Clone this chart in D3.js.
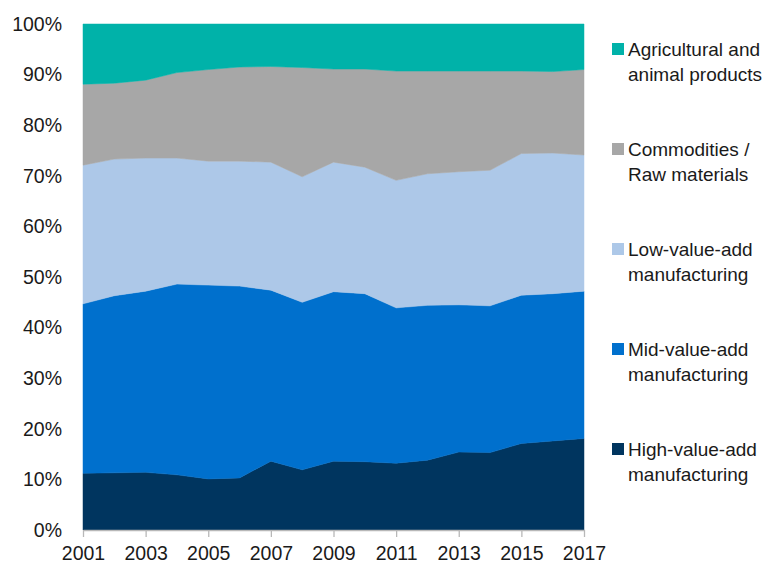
<!DOCTYPE html>
<html>
<head>
<meta charset="utf-8">
<script src="https://cdn.jsdelivr.net/npm/d3@7"></script>
<style>
  html, body { margin: 0; padding: 0; background: #fff; }
  svg { display: block; }
  text { font-family: "Liberation Sans", Arial, Helvetica, sans-serif; fill: #1a1a1a; }
</style>
</head>
<body>
<svg id="chart" width="764" height="564"></svg>
<script>
const years = [2001,2002,2003,2004,2005,2006,2007,2008,2009,2010,2011,2012,2013,2014,2015,2016,2017];
const highValueAdd = [11.2,11.3,11.4,10.9,10.1,10.3,13.6,11.9,13.6,13.5,13.2,13.8,15.4,15.3,17.1,17.6,18.1];
const midValueAdd  = [33.5,35.0,35.8,37.7,38.3,37.9,33.8,33.1,33.5,33.2,30.7,30.6,29.1,29.0,29.3,29.1,29.1];
const lowValueAdd  = [27.4,27.0,26.3,24.9,24.5,24.7,25.3,24.8,25.6,25.0,25.2,26.0,26.3,26.8,28.0,27.8,26.9];
const commodities  = [16.0,15.0,15.4,16.9,18.1,18.6,18.9,21.6,18.4,19.4,21.6,20.3,19.9,19.6,16.3,16.1,16.9];
const agricultural = [11.9,11.7,11.1, 9.6, 9.0, 8.5, 8.4, 8.6, 8.9, 8.9, 9.3, 9.3, 9.3, 9.3, 9.3, 9.4, 9.0];

const seriesNames = ["High-value-add manufacturing","Mid-value-add manufacturing","Low-value-add manufacturing","Commodities / Raw materials","Agricultural and animal products"];
const seriesKeys = ["high","mid","low","com","agri"];
const seriesColors = ["#00355f","#0070cd","#adc8e8","#a7a7a7","#00b2a9"];
const legendLines = [
  ["High-value-add","manufacturing"],
  ["Mid-value-add","manufacturing"],
  ["Low-value-add","manufacturing"],
  ["Commodities /","Raw materials"],
  ["Agricultural and","animal products"]
];
const yTicks = [0,10,20,30,40,50,60,70,80,90,100];
const xTickYears = [2001,2003,2005,2007,2009,2011,2013,2015,2017];

const rows = years.map((yr,i) => ({
  year: yr, high: highValueAdd[i], mid: midValueAdd[i], low: lowValueAdd[i], com: commodities[i], agri: agricultural[i]
}));

const svg = d3.select("#chart");
const mLeft = 83, mRight = 584, mTop = 24, mBottom = 530;

const x = d3.scaleLinear().domain([2001, 2017]).range([mLeft, mRight]);
const y = d3.scaleLinear().domain([0, 1]).range([mBottom, mTop]);

const stack = d3.stack().keys(seriesKeys).offset(d3.stackOffsetExpand);
const stacked = stack(rows);

const area = d3.area()
  .x(d => x(d.data.year))
  .y0(d => y(d[0]))
  .y1(d => y(d[1]));

svg.append("g").selectAll("path")
  .data(stacked)
  .join("path")
  .attr("d", area)
  .attr("fill", (d,i) => seriesColors[i])
  .attr("stroke", (d,i) => seriesColors[i])
  .attr("stroke-width", 0.5);

// Y axis labels
const yAxis = d3.axisLeft(y).tickValues(yTicks.map(v => v/100)).tickFormat(d => Math.round(d*100) + "%").tickSize(0).tickPadding(21);
const yg = svg.append("g").attr("transform", `translate(${mLeft},0)`).call(yAxis);
yg.select(".domain").remove();
yg.attr("font-family", null).attr("font-size", null);
yg.selectAll("text").style("font-size", "19.5px").attr("fill", "#1a1a1a");

// X axis
const xAxis = d3.axisBottom(x).tickValues(xTickYears).tickFormat(d3.format("d")).tickSize(7).tickSizeOuter(0).tickPadding(9);
const xg = svg.append("g").attr("transform", `translate(0,${mBottom})`).call(xAxis);
xg.attr("font-family", null).attr("font-size", null);
xg.select(".domain").attr("stroke", "#b8b8b8").attr("stroke-width", 1.3);
xg.selectAll(".tick line").attr("stroke", "#b8b8b8").attr("stroke-width", 1.3);
xg.selectAll("text").style("font-size", "19.5px").attr("fill", "#1a1a1a");

// Legend (top to bottom: agri, com, low, mid, high)
const legendOrder = [4,3,2,1,0];
const lg = svg.append("g");
legendOrder.forEach((si, k) => {
  const ty = 43 + k * 100;
  lg.append("rect").attr("x", 612).attr("y", ty).attr("width", 12).attr("height", 12).attr("fill", seriesColors[si]);
  const t = lg.append("text").attr("x", 628).attr("y", ty + 13).style("font-size", "19px");
  legendLines[si].forEach((line, j) => {
    t.append("tspan").attr("x", 628).attr("dy", j === 0 ? 0 : 25).text(line);
  });
});
</script>
</body>
</html>
